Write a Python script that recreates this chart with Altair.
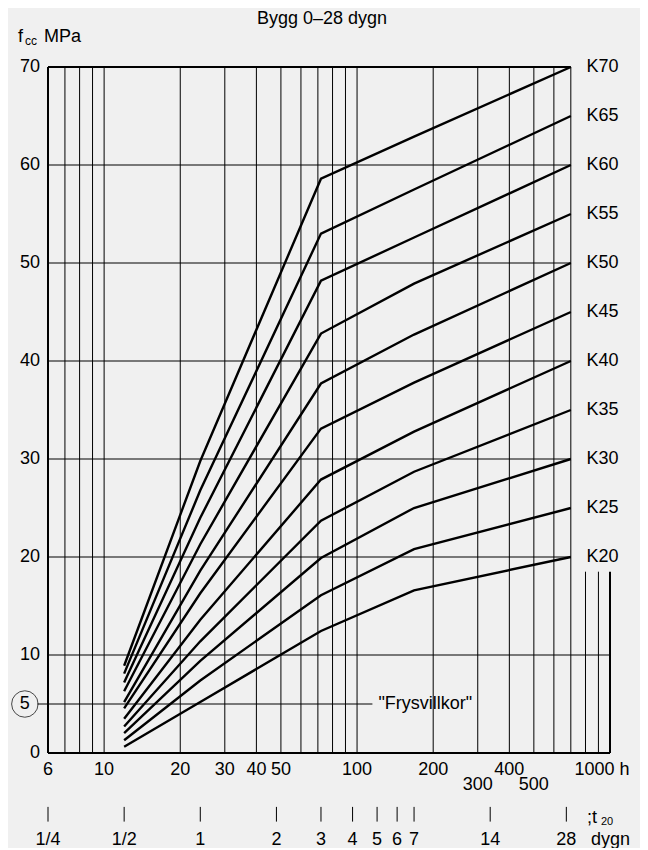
import altair as alt
import pandas as pd

# ---------------- data ----------------
hours_pts = [12, 24, 72, 168, 700]
grades = ["K20", "K25", "K30", "K35", "K40", "K45", "K50", "K55", "K60", "K65", "K70"]
grade_values = [20, 25, 30, 35, 40, 45, 50, 55, 60, 65, 70]
k20 = [0.64, 5.2, 12.45, 16.6, 20]
k25 = [1.3, 7.4, 16.1, 20.8, 25]
k30 = [2.04, 9.4, 19.9, 25.0, 30]
k35 = [2.7, 11.4, 23.7, 28.7, 35]
k40 = [3.5, 13.6, 27.9, 32.8, 40]
k45 = [4.56, 16.3, 33.1, 37.8, 45]
k50 = [5.2, 18.6, 37.7, 42.7, 50]
k55 = [6.3, 21.3, 42.8, 47.9, 55]
k60 = [7.2, 24.0, 48.2, 52.6, 60]
k65 = [8.1, 26.8, 53.0, 57.5, 65]
k70 = [8.9, 29.8, 58.6, 62.9, 70]
curve_values = [k20, k25, k30, k35, k40, k45, k50, k55, k60, k65, k70]

grid_v_full = [7, 8, 9, 10, 20, 30, 40, 50, 60, 70, 80, 90, 100, 200, 300, 400, 500, 600, 700]
grid_v_low = [800, 900]
grid_h_mid = [20, 30, 40, 50, 60]
y_ticks = [0, 10, 20, 30, 40, 50, 60, 70]
h_ticks_row1 = [6, 10, 20, 30, 40, 50, 100, 200, 400]
h_ticks_row2 = [300, 500]
day_hours = [6, 12, 24, 48, 72, 96, 120, 144, 168, 336, 672]
day_labels = ["1/4", "1/2", "1", "2", "3", "4", "5", "6", "7", "14", "28"]
frys_level = 5
frys_end = 115
low_top = 18.5
circle_h = 4.86
label_h = 800

FONT = "Liberation Sans"
FS = 18

# ---------------- tables ----------------
curve_rows = []
for g, vals in zip(grades, curve_values):
    for h, v in zip(hours_pts, vals):
        curve_rows.append({"K": g, "h": h, "v": v})
curves = pd.DataFrame(curve_rows)

seg = []
for h in grid_v_full:
    seg.append({"h": h, "h2": h, "v": 0, "v2": 70, "w": 1})
for h in grid_v_low:
    seg.append({"h": h, "h2": h, "v": 0, "v2": low_top, "w": 1})
for v in grid_h_mid:
    seg.append({"h": 6, "h2": 700, "v": v, "v2": v, "w": 1})
seg.append({"h": 6, "h2": 1000, "v": 10, "v2": 10, "w": 1})
seg.append({"h": 5.45, "h2": frys_end, "v": frys_level, "v2": frys_level, "w": 1})
# frame
seg.append({"h": 6, "h2": 6, "v": 0, "v2": 70, "w": 2})
seg.append({"h": 1000, "h2": 1000, "v": 0, "v2": low_top, "w": 2})
seg.append({"h": 6, "h2": 1000, "v": 0, "v2": 0, "w": 2})
seg.append({"h": 6, "h2": 700, "v": 70, "v2": 70, "w": 2})
segs = pd.DataFrame(seg)

xs = alt.Scale(type="log", domain=[6, 1000], nice=False)
ys = alt.Scale(domain=[0, 70], nice=False, zero=False)
X = alt.X("h:Q", scale=xs, axis=None)
Y = alt.Y("v:Q", scale=ys, axis=None)

grid = alt.Chart(segs).mark_rule(color="black").encode(
    x=X, x2="h2:Q", y=Y, y2="v2:Q",
    strokeWidth=alt.StrokeWidth("w:Q", scale=None),
)

lines = alt.Chart(curves).mark_line(color="black", strokeWidth=2.4).encode(
    x=X, y=Y, detail="K:N"
)

day_ticks = alt.Chart(pd.DataFrame({"h": day_hours, "v": [-5.5] * len(day_hours),
                                    "v2": [-7.0] * len(day_hours)})).mark_rule(
    color="black", strokeWidth=1).encode(x=X, y=Y, y2="v2:Q")


def texts(df, **kw):
    base = dict(font=FONT, fontSize=FS, color="black")
    base.update(kw)
    return alt.Chart(df).mark_text(**base).encode(x=X, y=Y, text="t:N")


ylab = texts(pd.DataFrame({"h": [6] * len(y_ticks), "v": y_ticks, "t": [str(t) for t in y_ticks]}),
             align="right", baseline="middle", dx=-8)
five = texts(pd.DataFrame({"h": [circle_h], "v": [frys_level], "t": ["5"]}),
             align="center", baseline="middle")
circle = alt.Chart(pd.DataFrame({"h": [circle_h], "v": [frys_level]})).mark_point(
    shape="circle", filled=False, size=700, color="black", strokeWidth=1).encode(x=X, y=Y)
frys = texts(pd.DataFrame({"h": [frys_end], "v": [frys_level], "t": ['"Frysvillkor"']}),
             align="left", baseline="middle", dx=6)
klab = texts(pd.DataFrame({"h": [label_h] * len(grades), "v": grade_values, "t": grades}),
             align="left", baseline="middle", dx=1)
hr1 = texts(pd.DataFrame({"h": h_ticks_row1, "v": [0] * len(h_ticks_row1),
                          "t": [str(t) for t in h_ticks_row1]}),
            align="center", baseline="middle", dy=17)
hr2 = texts(pd.DataFrame({"h": h_ticks_row2, "v": [0] * len(h_ticks_row2),
                          "t": [str(t) for t in h_ticks_row2]}),
            align="center", baseline="middle", dy=32)
h1000 = texts(pd.DataFrame({"h": [1000], "v": [0], "t": ["1000 h"]}),
              align="center", baseline="middle", dy=17, dx=-8)
dlab = texts(pd.DataFrame({"h": day_hours, "v": [0] * len(day_hours), "t": day_labels}),
             align="center", baseline="middle", dy=87)
t20a = texts(pd.DataFrame({"h": [1000], "v": [0], "t": [";t"]}),
             align="left", baseline="middle", dx=-23, dy=65)
t20b = texts(pd.DataFrame({"h": [1000], "v": [0], "t": ["20"]}),
             align="left", baseline="middle", dx=-9, dy=69, fontSize=11)
dygn = texts(pd.DataFrame({"h": [1000], "v": [0], "t": ["dygn"]}),
             align="left", baseline="middle", dx=-19, dy=87)

title = alt.Chart(pd.DataFrame({"t": ["Bygg 0–28 dygn"]})).mark_text(
    font=FONT, fontSize=FS, align="center", baseline="middle", color="black").encode(
    x=alt.value(274), y=alt.value(-48), text="t:N")
f_lab = alt.Chart(pd.DataFrame({"t": ["f"]})).mark_text(
    font=FONT, fontSize=FS, align="left", baseline="alphabetic", color="black").encode(
    x=alt.value(-30), y=alt.value(-25), text="t:N")
cc_lab = alt.Chart(pd.DataFrame({"t": ["cc"]})).mark_text(
    font=FONT, fontSize=12, align="left", baseline="alphabetic", color="black").encode(
    x=alt.value(-23), y=alt.value(-22), text="t:N")
mpa_lab = alt.Chart(pd.DataFrame({"t": ["MPa"]})).mark_text(
    font=FONT, fontSize=FS, align="left", baseline="alphabetic", color="black").encode(
    x=alt.value(-4), y=alt.value(-25), text="t:N")

chart = alt.layer(
    grid, day_ticks, lines, circle, ylab, five, frys, klab, hr1, hr2, h1000,
    dlab, t20a, t20b, dygn, title, f_lab, cc_lab, mpa_lab
).properties(
    width=562, height=686,
    background="#f0f0f0",
    padding={"left": 40, "top": 59, "right": 30, "bottom": 95},
    autosize=alt.AutoSizeParams(type="none"),
).configure_view(stroke=None)

chart.save("out.html", embed_options={"renderer": "svg", "actions": False})
